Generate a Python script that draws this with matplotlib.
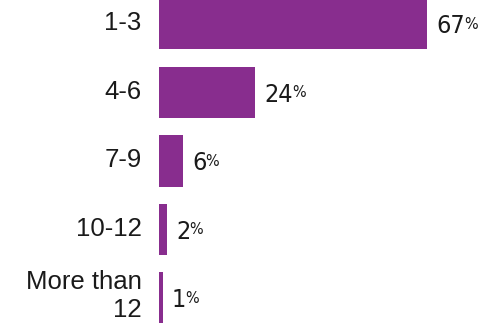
import matplotlib.pyplot as plt

categories = ["1-3", "4-6", "7-9", "10-12", "More than\n12"]
shares = [67, 24, 6, 2, 1]

BAR_COLOR = "#882d8e"
TEXT_COLOR = "#1a1a1a"

fig = plt.figure(figsize=(4.78, 3.23), dpi=100)
ax = fig.add_axes([159 / 478, 0, 1 - 159 / 478, 1])

pos = list(range(len(categories)))
ax.barh(pos, shares, height=0.745, color=BAR_COLOR)

ax.set_xlim(0, 79.75)
ax.set_ylim(4.365, -0.35)
ax.set_xticks([])
ax.set_yticks([])
for s in ax.spines.values():
    s.set_visible(False)

# category names to the left of the bars
for y, cat in zip(pos, categories):
    dy = 1.5 if "\n" in cat else 0.5
    ax.annotate(cat, xy=(0, y), xytext=(-12.5, dy), textcoords="offset points",
                ha="right", va="center", fontsize=18.5, family="Liberation Sans",
                color=TEXT_COLOR, linespacing=1.25, annotation_clip=False)

# value labels with a small raised percent sign
for y, v in zip(pos, shares):
    num = ax.annotate(str(v), xy=(v, y), xytext=(6.5, -1.5), textcoords="offset points",
                      ha="left", va="center", fontsize=18,
                      family="DejaVu Sans", stretch="condensed", color=TEXT_COLOR)
    ax.annotate("%", xy=(1, 1), xycoords=num, xytext=(-0.5, -2),
                textcoords="offset points", ha="left", va="top",
                fontsize=11.5, family="DejaVu Sans", stretch="condensed",
                color=TEXT_COLOR)

fig.savefig("out.png", dpi=100)
